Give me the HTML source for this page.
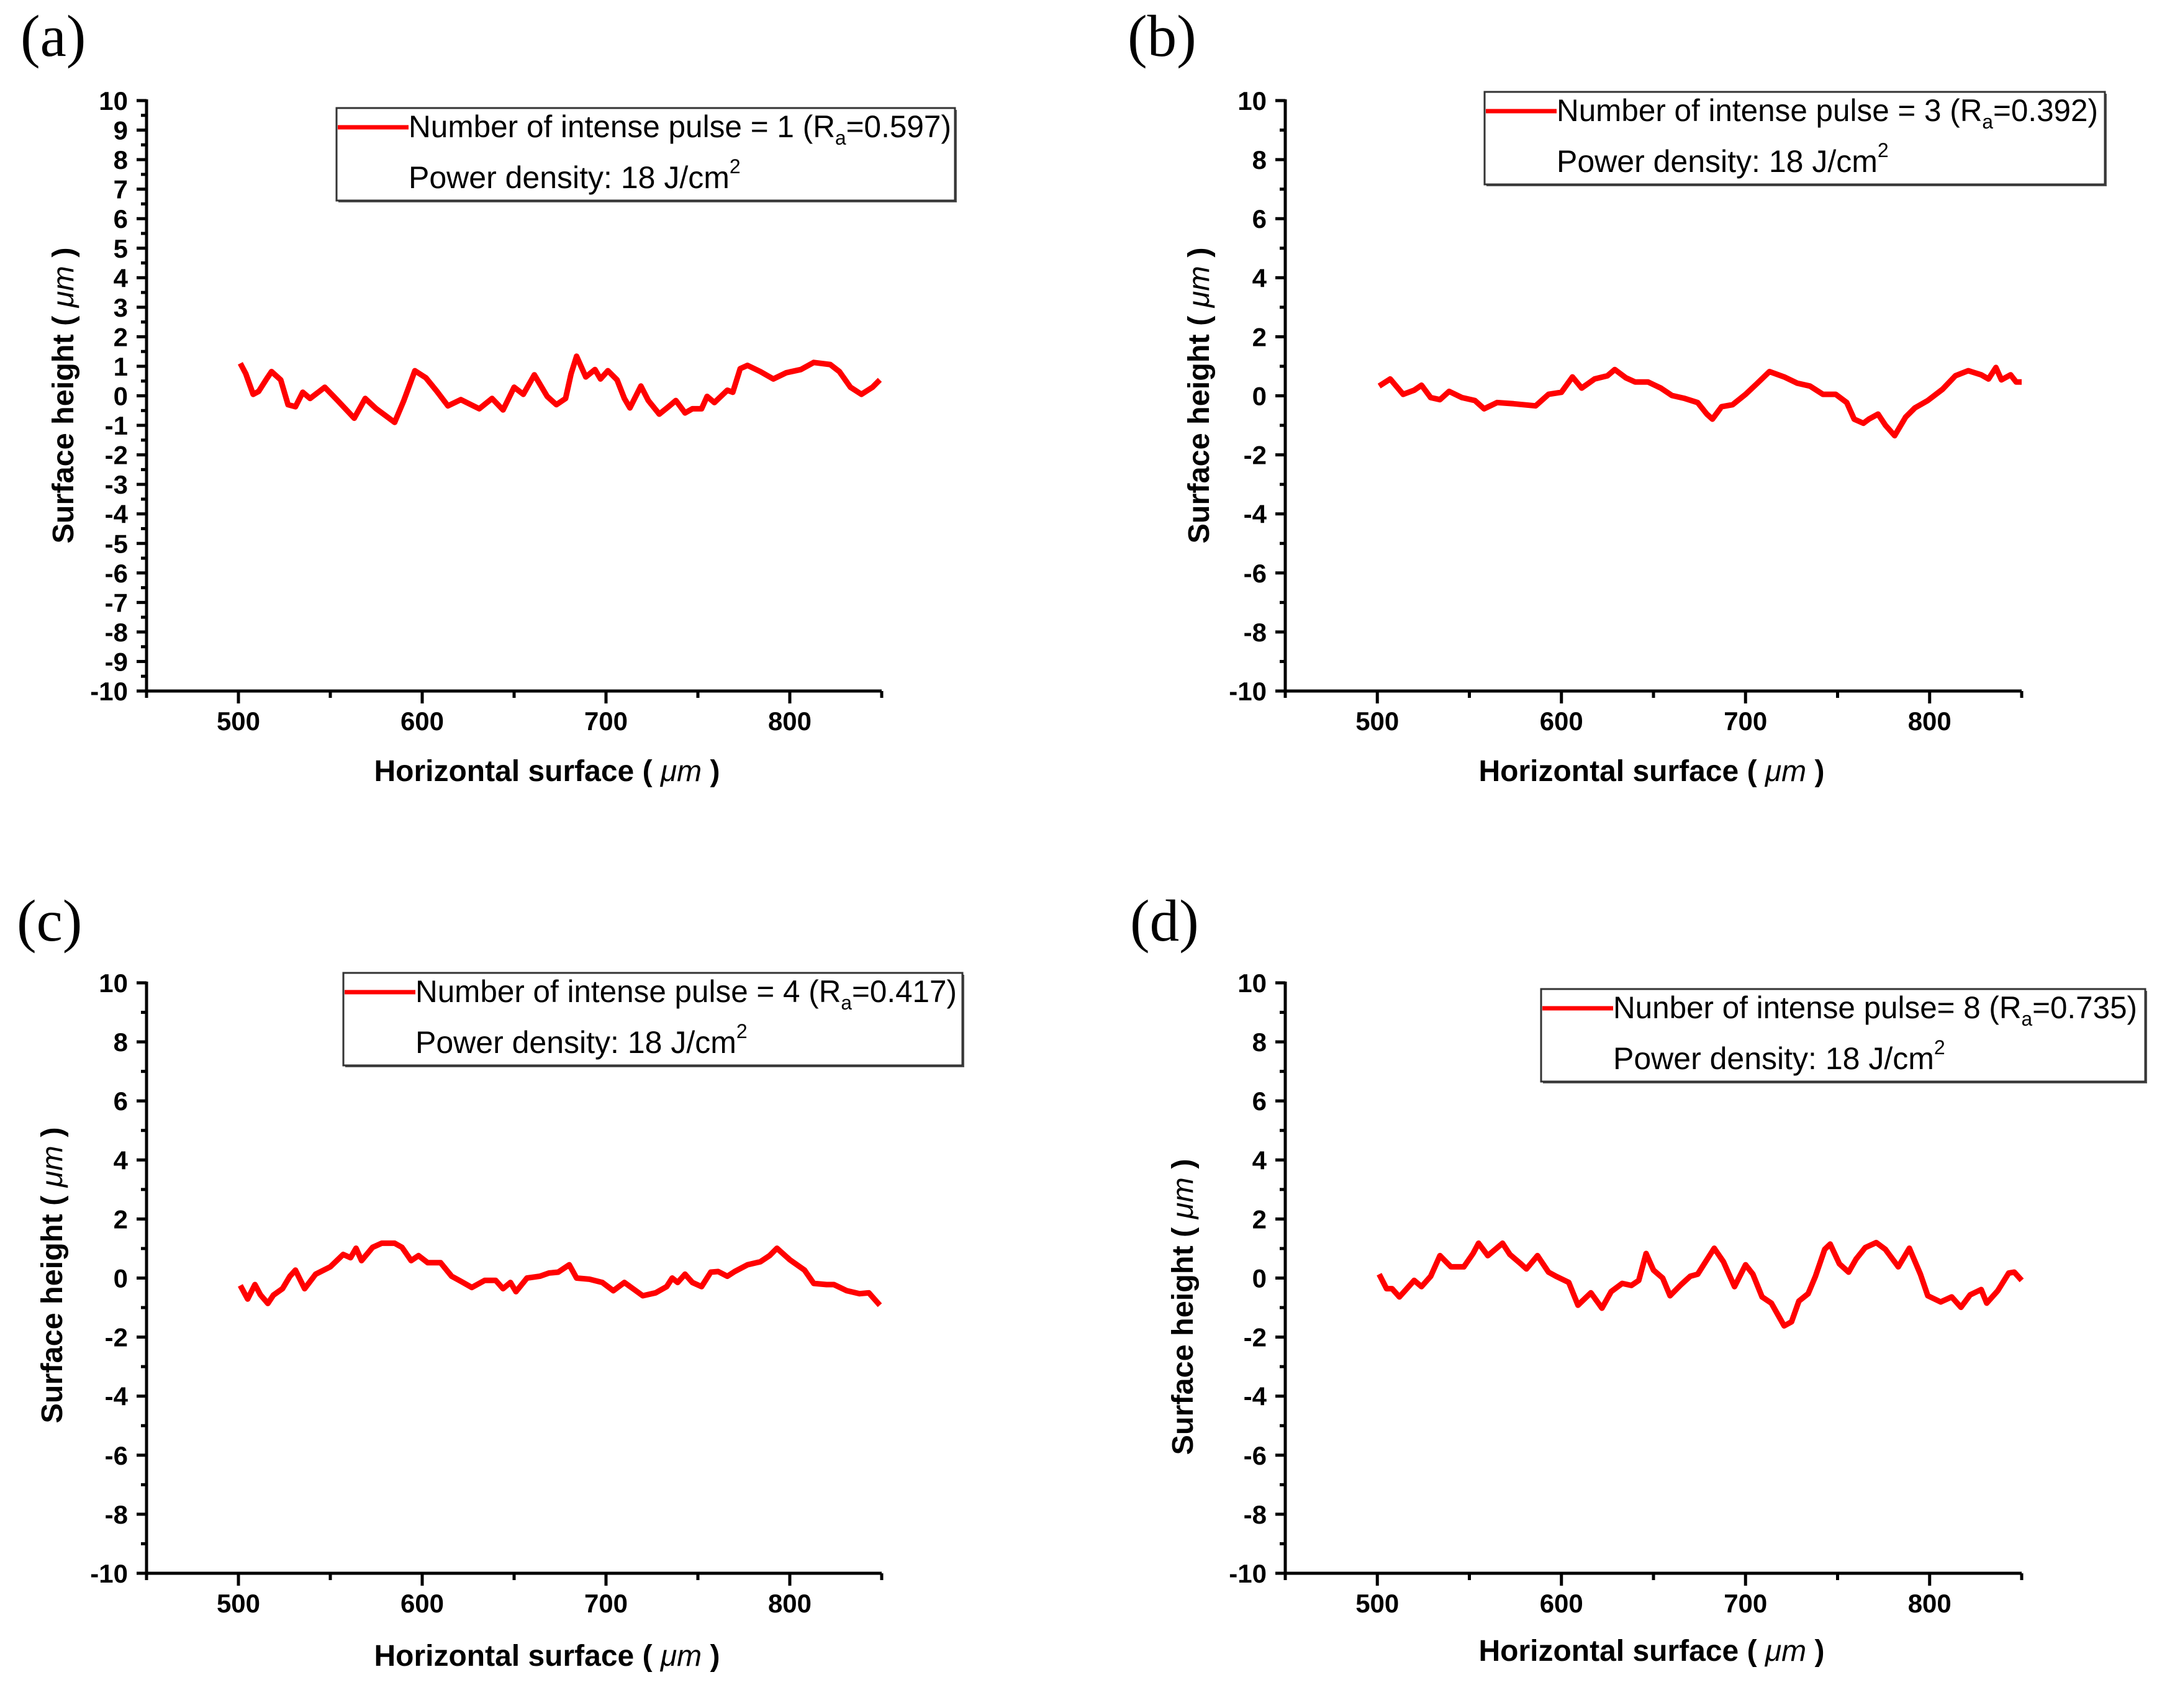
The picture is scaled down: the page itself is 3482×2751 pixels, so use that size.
<!DOCTYPE html>
<html><head><meta charset="utf-8"><style>
html,body{margin:0;padding:0;background:#fff;}
svg{display:block;}
</style></head><body>
<svg id="fig" xmlns="http://www.w3.org/2000/svg" width="3482" height="2751" viewBox="0 0 3482 2751">
<rect width="3482" height="2751" fill="#fff"/>
</svg>
<script>
// ---- data (x in µm, y in µm) ----
const xA=[501,504,508,511,515,518,523,527,531,535,539,547,554,563,569,575,585,590,596,602,608,614,621,631,638,644,650,655,661,668,673,678,681,684,689,694,697,701,706,710,713,719,723,729,734,738,743,747,752,755,759,766,769,773,777,784,791,798,806,813,822,827,833,839,845,849];
const yA=[1.10,0.75,0.05,0.15,0.54,0.82,0.54,-0.30,-0.37,0.12,-0.09,0.29,-0.16,-0.76,-0.09,-0.44,-0.90,-0.16,0.85,0.61,0.15,-0.34,-0.13,-0.44,-0.09,-0.48,0.29,0.05,0.71,-0.02,-0.30,-0.09,0.75,1.34,0.64,0.89,0.57,0.85,0.54,-0.09,-0.41,0.33,-0.16,-0.62,-0.37,-0.16,-0.58,-0.44,-0.44,-0.02,-0.23,0.19,0.12,0.92,1.03,0.82,0.57,0.78,0.89,1.13,1.06,0.82,0.29,0.05,0.29,0.54];
const xB=[501,507,514,520,524,529,534,539,546,553,558,565,574,586,593,600,606,611,618,625,629,635,640,647,654,660,667,674,679,682,687,693,700,706,713,721,728,735,742,749,755,759,764,767,772,776,781,787,792,799,807,814,821,828,832,836,839,844,847,850];
const yB=[0.33,0.57,0.05,0.19,0.36,-0.06,-0.13,0.15,-0.06,-0.16,-0.44,-0.23,-0.27,-0.34,0.05,0.12,0.64,0.26,0.57,0.68,0.89,0.61,0.47,0.47,0.26,0.01,-0.09,-0.23,-0.62,-0.79,-0.37,-0.30,0.05,0.40,0.82,0.64,0.43,0.33,0.05,0.05,-0.23,-0.79,-0.93,-0.79,-0.62,-1.00,-1.35,-0.72,-0.41,-0.16,0.22,0.68,0.85,0.71,0.57,0.96,0.54,0.71,0.47,0.47];
const xC=[501,505,509,512,516,519,524,528,531,536,542,550,557,561,564,567,573,578,585,589,594,598,603,610,616,621,627,634,640,644,648,651,657,664,669,674,680,684,691,698,704,710,720,727,733,736,739,743,747,752,757,761,766,770,777,784,789,793,800,808,813,820,824,831,838,843,849];
const yC=[-0.25,-0.71,-0.22,-0.57,-0.86,-0.58,-0.36,0.06,0.27,-0.36,0.13,0.38,0.80,0.69,1.01,0.59,1.04,1.18,1.18,1.04,0.59,0.76,0.52,0.52,0.06,-0.11,-0.32,-0.08,-0.08,-0.36,-0.15,-0.46,0.00,0.06,0.17,0.20,0.45,0.00,-0.04,-0.15,-0.43,-0.15,-0.60,-0.50,-0.29,0.00,-0.15,0.13,-0.15,-0.29,0.20,0.22,0.06,0.22,0.45,0.55,0.76,1.01,0.62,0.27,-0.18,-0.22,-0.22,-0.43,-0.53,-0.50,-0.92];
const xD=[501,505,508,512,516,520,524,529,534,540,547,552,555,560,568,572,578,581,587,593,597,604,609,616,622,627,633,638,642,646,650,655,659,665,670,674,679,683,688,694,700,704,709,714,721,725,729,734,738,743,746,751,756,760,765,771,776,783,789,795,799,806,812,817,822,828,831,837,843,846,850];
const yD=[0.13,-0.36,-0.36,-0.64,-0.36,-0.08,-0.29,0.06,0.76,0.38,0.38,0.83,1.18,0.76,1.18,0.80,0.48,0.31,0.76,0.20,0.06,-0.15,-0.92,-0.50,-1.02,-0.46,-0.18,-0.25,-0.08,0.83,0.27,0.00,-0.60,-0.22,0.06,0.13,0.62,1.01,0.55,-0.29,0.45,0.13,-0.64,-0.85,-1.62,-1.48,-0.78,-0.53,0.06,0.97,1.15,0.48,0.20,0.64,1.03,1.20,0.97,0.38,1.01,0.13,-0.60,-0.81,-0.64,-0.99,-0.57,-0.39,-0.85,-0.43,0.17,0.20,-0.08];
const xTickLabels=["500","600","700","800"];
const legendA="Number of intense pulse = 1 (R", raA="=0.597)";
const legendB="Number of intense pulse = 3 (R", raB="=0.392)";
const legendC="Number of intense pulse = 4 (R", raC="=0.417)";
const legendD="Nunber of intense pulse= 8 (R", raD="=0.735)";

const NS="http://www.w3.org/2000/svg";
const svg=document.getElementById('fig');
function mk(tag,attrs,parent){const e=document.createElementNS(NS,tag);for(const k in attrs)e.setAttribute(k,attrs[k]);(parent||svg).appendChild(e);return e;}

const panels=[
 {id:'a',L:236,R:1420,T:162,B:1113,yStep:1,xs:xA,ys:yA,leg:legendA,ra:raA,lb:[542,174,1538,1532],lbl:[33,90],xt:[881,1258],yt:[102,637]},
 {id:'b',L:2070,R:3256,T:162,B:1113,yStep:2,xs:xB,ys:yB,leg:legendB,ra:raB,lb:[2391,148,3390,3379],lbl:[1816,90],xt:[2660,1258],yt:[1931,637]},
 {id:'c',L:236,R:1420,T:1583,B:2534,yStep:2,xs:xC,ys:yC,leg:legendC,ra:raC,lb:[553,1567,1550,1541],lbl:[27,1515],xt:[881,2683],yt:[84,2054]},
 {id:'d',L:2070,R:3256,T:1583,B:2534,yStep:2,xs:xD,ys:yD,leg:legendD,ra:raD,lb:[2482,1593,3455,3442],lbl:[1820,1515],xt:[2660,2675],yt:[1905,2105]}
];

panels.forEach(p=>{
 const g=mk('g',{});
 
 
 const sx=v=>p.L+(v-450)/400*(p.R-p.L);
 const sy=v=>p.B-(v+10)/20*(p.B-p.T);
 const pl=mk('text',{x:p.lbl[0],y:p.lbl[1],'font-family':'Liberation Serif, serif','font-size':95},g);
 pl.textContent='('+p.id+')';
 
 
 const ax=mk('path',{d:`M${p.L},${p.T-2} L${p.L},${p.B} L${p.R},${p.B}`,fill:'none',stroke:'#000','stroke-width':5},g);
 
 
 for(let v=-10;v<=10+1e-9;v+=p.yStep/2){
  const major=Math.abs(Math.round(v/p.yStep)*p.yStep-v)<1e-6;
  const y=sy(v);
  const t=mk('line',{x1:p.L,x2:p.L-(major?16:9),y1:y,y2:y,stroke:'#000','stroke-width':5},g);
  
  
  if(major){
   const tl=mk('text',{x:p.L-30,y:y+15,'text-anchor':'end','font-family':'Liberation Sans, sans-serif','font-weight':'bold','font-size':42},g);
   tl.textContent=String(Math.round(v));
   
   
  }
 }
 for(let v=450;v<=850;v+=50){
  const major=(v%100===0);
  const x=sx(v);
  const t=mk('line',{x1:x,x2:x,y1:p.B,y2:p.B+(major?20:11),stroke:'#000','stroke-width':5},g);
  
  
 }
 xTickLabels.forEach(s=>{
  const tl=mk('text',{x:sx(+s),y:p.B+63,'text-anchor':'middle','font-family':'Liberation Sans, sans-serif','font-weight':'bold','font-size':42},g);
  tl.textContent=s;
  
  
 });
 const xt=mk('text',{x:p.xt[0],y:p.xt[1],'text-anchor':'middle','font-family':'Liberation Sans, sans-serif','font-weight':'bold','font-size':48,textLength:557,lengthAdjust:'spacingAndGlyphs'},g);
 xt.innerHTML='Horizontal surface ( <tspan font-style="italic" font-weight="normal">μm</tspan> )';
 
 
 const yt=mk('text',{x:0,y:0,'text-anchor':'middle','font-family':'Liberation Sans, sans-serif','font-weight':'bold','font-size':48,textLength:477,lengthAdjust:'spacingAndGlyphs',transform:`translate(${p.yt[0]+16},${p.yt[1]}) rotate(-90)`},g);
 yt.innerHTML='Surface height ( <tspan font-style="italic" font-weight="normal">μm</tspan> )';
 
 
 const d=p.xs.map((x,i)=>(i?'L':'M')+sx(x).toFixed(1)+','+sy(p.ys[i]).toFixed(1)).join(' ');
 const ln=mk('path',{d:d,fill:'none',stroke:'#ff0000','stroke-width':9,'stroke-linejoin':'round'},g);
 
 
 const [bl,bt,br,tr]=p.lb;
 const lg=mk('g',{},g);
 
 
 mk('rect',{x:bl+3,y:bt+3,width:br-bl,height:149,fill:'#555'},lg);
 mk('rect',{x:bl,y:bt,width:br-bl,height:149,fill:'#fff',stroke:'#333','stroke-width':3},lg);
 const tx=bl+116;
 mk('line',{x1:bl+2,x2:tx,y1:bt+31,y2:bt+31,stroke:'#ff0000','stroke-width':7},lg);
 const t1=mk('text',{x:tx,y:bt+47,'font-family':'Liberation Sans, sans-serif','font-size':50,textLength:tr-tx,lengthAdjust:'spacingAndGlyphs'},lg);
 t1.innerHTML=p.leg+'<tspan font-size="32" dy="12">a</tspan><tspan dy="-12">'+p.ra+'</tspan>';
 
 
 const t2=mk('text',{x:tx,y:bt+129,'font-family':'Liberation Sans, sans-serif','font-size':50},lg);
 t2.innerHTML='Power density: 18 J/cm<tspan font-size="32" dy="-24">2</tspan>';
 
 
});
</script>
</body></html>
